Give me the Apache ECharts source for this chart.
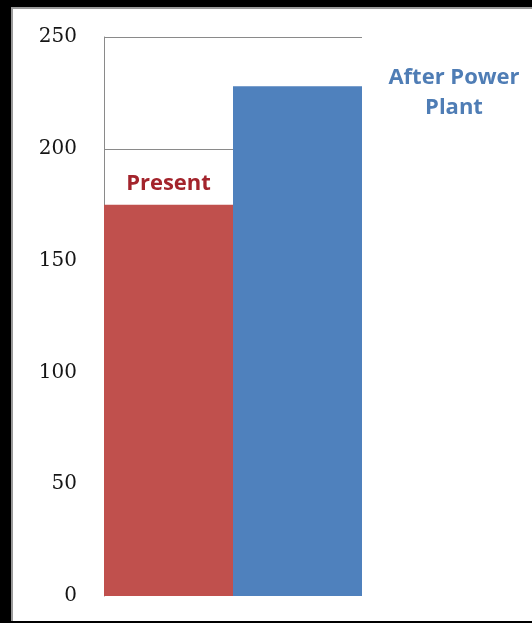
<!DOCTYPE html>
<html>
<head>
<meta charset="utf-8">
<script src="https://cdn.jsdelivr.net/npm/echarts@6/dist/echarts.min.js"></script>
<style>
  html, body { margin: 0; padding: 0; background: #000; }
  #frame {
    position: absolute; left: 11px; top: 7px; width: 521px; height: 614px;
    background: #fff; border-left: 2px solid #9a9a9a; border-top: 2px solid #9a9a9a;
    box-sizing: border-box;
  }
  #chart { position: absolute; left: 0; top: 0; width: 532px; height: 623px; }
</style>
</head>
<body>
<div id="frame"></div>
<div id="chart"></div>
<script>
const categories = ["Present", "After Power Plant"];
const values = [175, 228];
const barColors = ["#C0504D", "#4F81BD"];
const yTicks = [0, 50, 100, 150, 200, 250];

const chart = echarts.init(document.getElementById("chart"), null, { renderer: "canvas" });

const labels = [
  {
    show: true,
    position: "top",
    distance: 10,
    formatter: "Present",
    color: "#A3242C",
    fontFamily: "Open Sans",
    fontWeight: "bold",
    fontSize: 22
  },
  {
    show: true,
    position: [221, -23],
    align: "center",
    verticalAlign: "top",
    formatter: "After Power\nPlant",
    color: "#4F7DB5",
    fontFamily: "Open Sans",
    fontWeight: "bold",
    fontSize: 22,
    lineHeight: 30
  }
];

chart.setOption({
  animation: false,
  backgroundColor: "transparent",
  grid: { left: 104, right: 170, top: 37, bottom: 27 },
  xAxis: {
    type: "category",
    data: categories,
    axisLine: { show: false },
    axisTick: { show: false },
    axisLabel: { show: false }
  },
  yAxis: {
    type: "value",
    min: yTicks[0],
    max: yTicks[yTicks.length - 1],
    interval: 50,
    axisLine: { show: true, lineStyle: { color: "#8a8a8a", width: 1 } },
    axisTick: { show: false },
    axisLabel: {
      color: "#151515",
      fontFamily: "DejaVu Serif",
      fontSize: 20,
      margin: 27
    },
    splitLine: { show: true, showMinLine: false, lineStyle: { color: "#8a8a8a", width: 1 } }
  },
  series: [
    {
      type: "bar",
      barCategoryGap: 0,
      data: values.map((v, i) => ({
        value: v,
        itemStyle: { color: barColors[i] },
        label: labels[i]
      }))
    }
  ]
});
</script>
</body>
</html>
